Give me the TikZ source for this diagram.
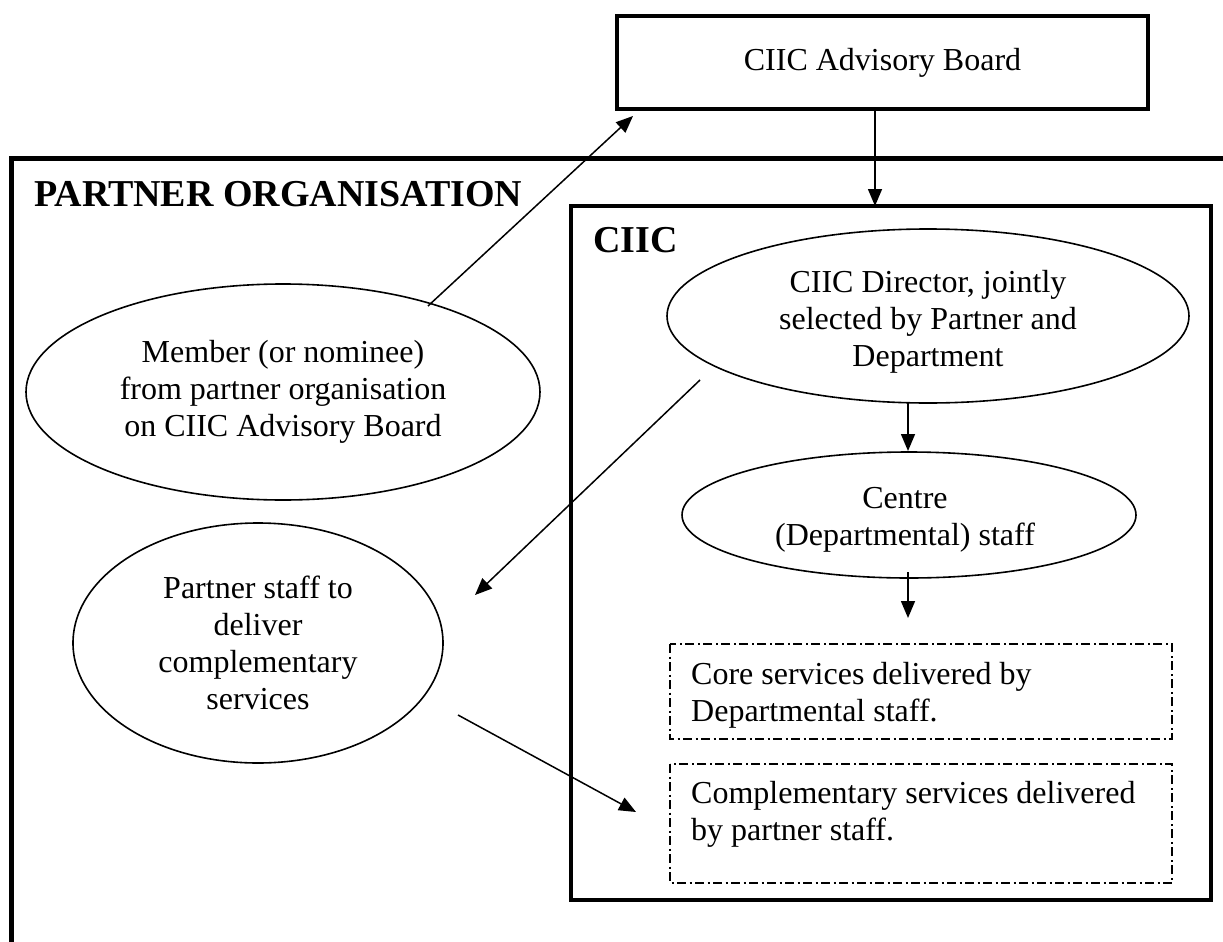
\documentclass[tikz,border=0pt]{standalone}
\usepackage{fontspec}
\setmainfont{Liberation Serif}
\usetikzlibrary{arrows.meta,shapes.geometric}
\tikzset{
  txt/.style={font=\fontsize{32}{37}\selectfont, align=center, inner sep=0pt},
  head/.style={font=\fontsize{38}{40}\selectfont\bfseries, inner sep=0pt, anchor=base west},
  oval/.style={draw, ellipse, line width=1.6pt, inner sep=0pt, txt},
  arr/.style={line width=1.5pt, -{Triangle[length=17pt,width=14pt]}},
  dashbox/.style={draw, line width=1.4pt, dash pattern=on 9pt off 3.5pt on 2pt off 3.5pt},
  boxtxt/.style={font=\fontsize{32}{37}\selectfont, inner sep=0pt, anchor=base west}
}
\begin{document}
\begin{tikzpicture}[x=1pt,y=-1pt]
\useasboundingbox (0,0) rectangle (1223,942);
\clip (0,0) rectangle (1223,942);
\fill[white] (0,0) rectangle (1223,942);

% partner organisation frame
\draw[line width=5pt] (11,960) -- (11,158) -- (1240,158);
\node[head] (plabel) at (34,206) {PARTNER ORGANISATION};

% advisory board
\node[draw, line width=4pt, minimum width=531pt, minimum height=93pt, txt] (board) at (882.5,62.5) {CIIC Advisory Board};

% CIIC box
\draw[line width=3.5pt] (571,206) rectangle (1211,900);
\node[head] (clabel) at (593,252) {CIIC};

% ellipses
\node[oval, minimum width=514pt, minimum height=216pt] (member) at (283,392) {Member (or nominee)\\from partner organisation\\on CIIC Advisory Board};
\node[oval, minimum width=522pt, minimum height=174pt] (director) at (928,316) {};
\node[txt] (directortxt) at ([yshift=-6pt]director.center) {CIIC Director, jointly\\selected by Partner and\\Department};
\node[oval, minimum width=454pt, minimum height=126pt] (centre) at (909,515) {};
\node[txt] (centretxt) at ([yshift=-5pt,xshift=-4pt]centre.center) {Centre\\(Departmental) staff};
\node[oval, minimum width=370pt, minimum height=240pt] (pstaff) at (258,643) {Partner staff to\\deliver\\complementary\\services};

% dashed service boxes
\draw[dashbox] (670,644) rectangle (1172,739);
\node[boxtxt] (core1) at (691,684) {Core services delivered by};
\node[boxtxt] (core2) at (691,721) {Departmental staff.};
\draw[dashbox] (670,764) rectangle (1172,883);
\node[boxtxt] (comp1) at (691,803) {Complementary services delivered};
\node[boxtxt] (comp2) at (691,840) {by partner staff.};

% connector end points
\coordinate (bS) at (875,109);
\coordinate (cT) at (875,206);
\coordinate (mS) at (428,306);
\coordinate (mT) at (633,116);
\coordinate (dS) at (700,380);
\coordinate (dT) at (475,595);
\coordinate (d2S) at (908,402);
\coordinate (d2T) at (908,451);
\coordinate (ceS) at (908,572);
\coordinate (ceT) at (908,618);
\coordinate (pS) at (458,715);
\coordinate (pT) at (636,812);

\draw[arr] (bS) -- (cT);
\draw[arr] (mS) -- (mT);
\draw[arr] (dS) -- (dT);
\draw[arr] (d2S) -- (d2T);
\draw[arr] (ceS) -- (ceT);
\draw[arr] (pS) -- (pT);
\end{tikzpicture}
\end{document}
